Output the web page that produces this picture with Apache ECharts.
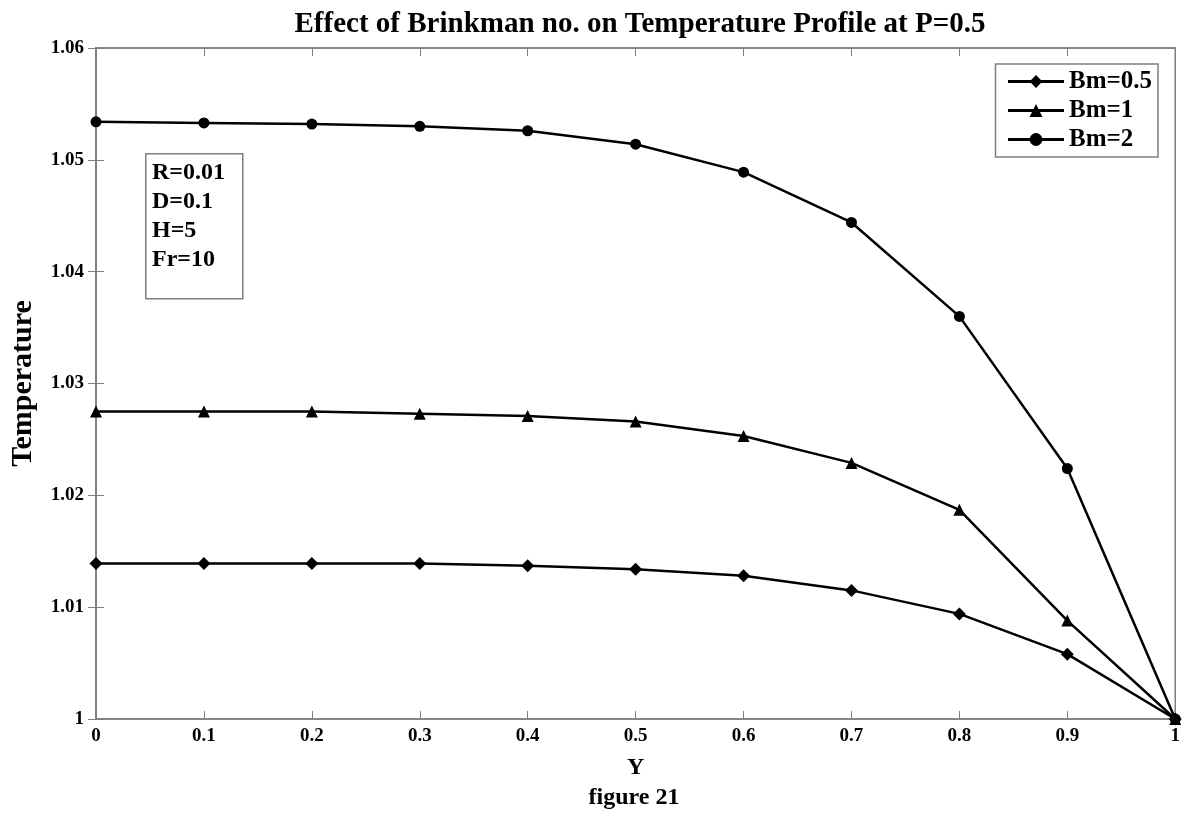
<!DOCTYPE html>
<html><head><meta charset="utf-8">
<script src="https://cdn.jsdelivr.net/npm/echarts@6/dist/echarts.min.js"></script>
<style>html,body{margin:0;padding:0;background:#fff}#c{width:1183px;height:814px}</style>
</head><body><div id="c"></div>
<script>
const yValues = [0, 0.1, 0.2, 0.3, 0.4, 0.5, 0.6, 0.7, 0.8, 0.9, 1];
const bm05 = [1.0139, 1.0139, 1.0139, 1.0139, 1.0137, 1.0134, 1.0128, 1.0115, 1.0094, 1.0058, 1.0];
const bm1  = [1.0275, 1.0275, 1.0275, 1.0273, 1.0271, 1.0266, 1.0253, 1.0229, 1.0187, 1.0088, 1.0];
const bm2  = [1.0534, 1.0533, 1.0532, 1.0530, 1.0526, 1.0514, 1.0489, 1.0444, 1.0360, 1.0224, 1.0];
const seriesNames = ['Bm=0.5', 'Bm=1', 'Bm=2'];
const paramLines = ['R=0.01', 'D=0.1', 'H=5', 'Fr=10'];
const xTicks = ['0','0.1','0.2','0.3','0.4','0.5','0.6','0.7','0.8','0.9','1'];
const yTicks = ['1','1.01','1.02','1.03','1.04','1.05','1.06'];

const font = '"Liberation Serif","DejaVu Serif",serif';
const axisGray = '#7f7f7f';
const chart = echarts.init(document.getElementById('c'));
const mk = (arr) => yValues.map((x, i) => [x, arr[i]]);
const lineSeries = (name, data, symbol, size) => ({
  name, type: 'line', data: mk(data), symbol, symbolSize: size,
  lineStyle: {color: '#000', width: 2.5}, itemStyle: {color: '#000'}, z: 5
});
const xLab = (v) => xTicks[Math.round(v*10)] ?? '';
const yLab = (v) => yTicks[Math.round((v-1)*100)] ?? '';

chart.setOption({
  animation: false,
  backgroundColor: '#fff',
  title: {
    text: 'Effect of Brinkman no. on Temperature Profile at P=0.5',
    left: 635, top: 5, textAlign: 'center',
    textStyle: {fontFamily: font, fontWeight: 'bold', fontSize: 29, color: '#000'}
  },
  grid: {left: 92, right: 6, top: 48, bottom: 95, show: true, borderColor: axisGray, borderWidth: 1.5},
  legend: {
    data: seriesNames, orient: 'vertical', right: 25, top: 64,
    itemWidth: 56, itemHeight: 16, itemGap: 4,
    padding: [5, 6, 5, 11],
    lineStyle: {width: 3, color: '#000'},
    borderColor: axisGray, borderWidth: 1.5, backgroundColor: '#fff',
    textStyle: {fontFamily: font, fontWeight: 'bold', fontSize: 25, color: '#000'}
  },
  xAxis: [{
    type: 'value', min: 0, max: 1, interval: 0.1,
    name: 'Y', nameLocation: 'middle', nameGap: 37,
    nameTextStyle: {fontFamily: font, fontWeight: 'bold', fontSize: 24, color: '#000'},
    axisLine: {lineStyle: {color: axisGray, width: 1.5}},
    axisTick: {inside: true, length: 8, lineStyle: {color: axisGray}},
    axisLabel: {formatter: xLab, fontFamily: font, fontWeight: 'bold', fontSize: 19, color: '#000', margin: 8},
    splitLine: {show: false}
  }, {
    type: 'value', min: 0, max: 1, interval: 0.1, position: 'top',
    axisLine: {lineStyle: {color: axisGray, width: 1.5}},
    axisTick: {inside: true, length: 8, lineStyle: {color: axisGray}},
    axisLabel: {show: false}, splitLine: {show: false}
  }],
  yAxis: [{
    type: 'value', min: 1, max: 1.06, interval: 0.01,
    name: 'Temperature', nameLocation: 'middle', nameGap: 58, nameRotate: 90,
    nameTextStyle: {fontFamily: font, fontWeight: 'bold', fontSize: 30, color: '#000'},
    axisLine: {lineStyle: {color: axisGray, width: 1.5}},
    axisTick: {inside: true, length: 8, lineStyle: {color: axisGray}},
    axisLabel: {formatter: yLab, fontFamily: font, fontWeight: 'bold', fontSize: 19, color: '#000', margin: 12},
    splitLine: {show: false}
  }, {
    type: 'value', min: 1, max: 1.06, interval: 0.01, position: 'right',
    axisLine: {show: true, lineStyle: {color: axisGray, width: 1.5}},
    axisTick: {show: true, inside: true, length: 8, lineStyle: {color: axisGray}},
    axisLabel: {show: false}, splitLine: {show: false}
  }],
  series: [
    lineSeries(seriesNames[0], bm05, 'diamond', 13),
    lineSeries(seriesNames[1], bm1, 'triangle', 12),
    lineSeries(seriesNames[2], bm2, 'circle', 11)
  ],
  graphic: [
    {type: 'rect', left: 145, top: 153, shape: {width: 97, height: 145},
     style: {fill: '#fff', stroke: axisGray, lineWidth: 1.5}, z: 10},
    {type: 'text', left: 152, top: 158, z: 11,
     style: {text: paramLines.join('\n'), fontFamily: font, fontWeight: 'bold', fontSize: 24, lineHeight: 29, fill: '#000'}},
    {type: 'text', x: 634, y: 786, z: 11,
     style: {text: 'figure 21', fontFamily: font, fontWeight: 'bold', fontSize: 24, fill: '#000', align: 'center', verticalAlign: 'top'}}
  ]
});
</script></body></html>
